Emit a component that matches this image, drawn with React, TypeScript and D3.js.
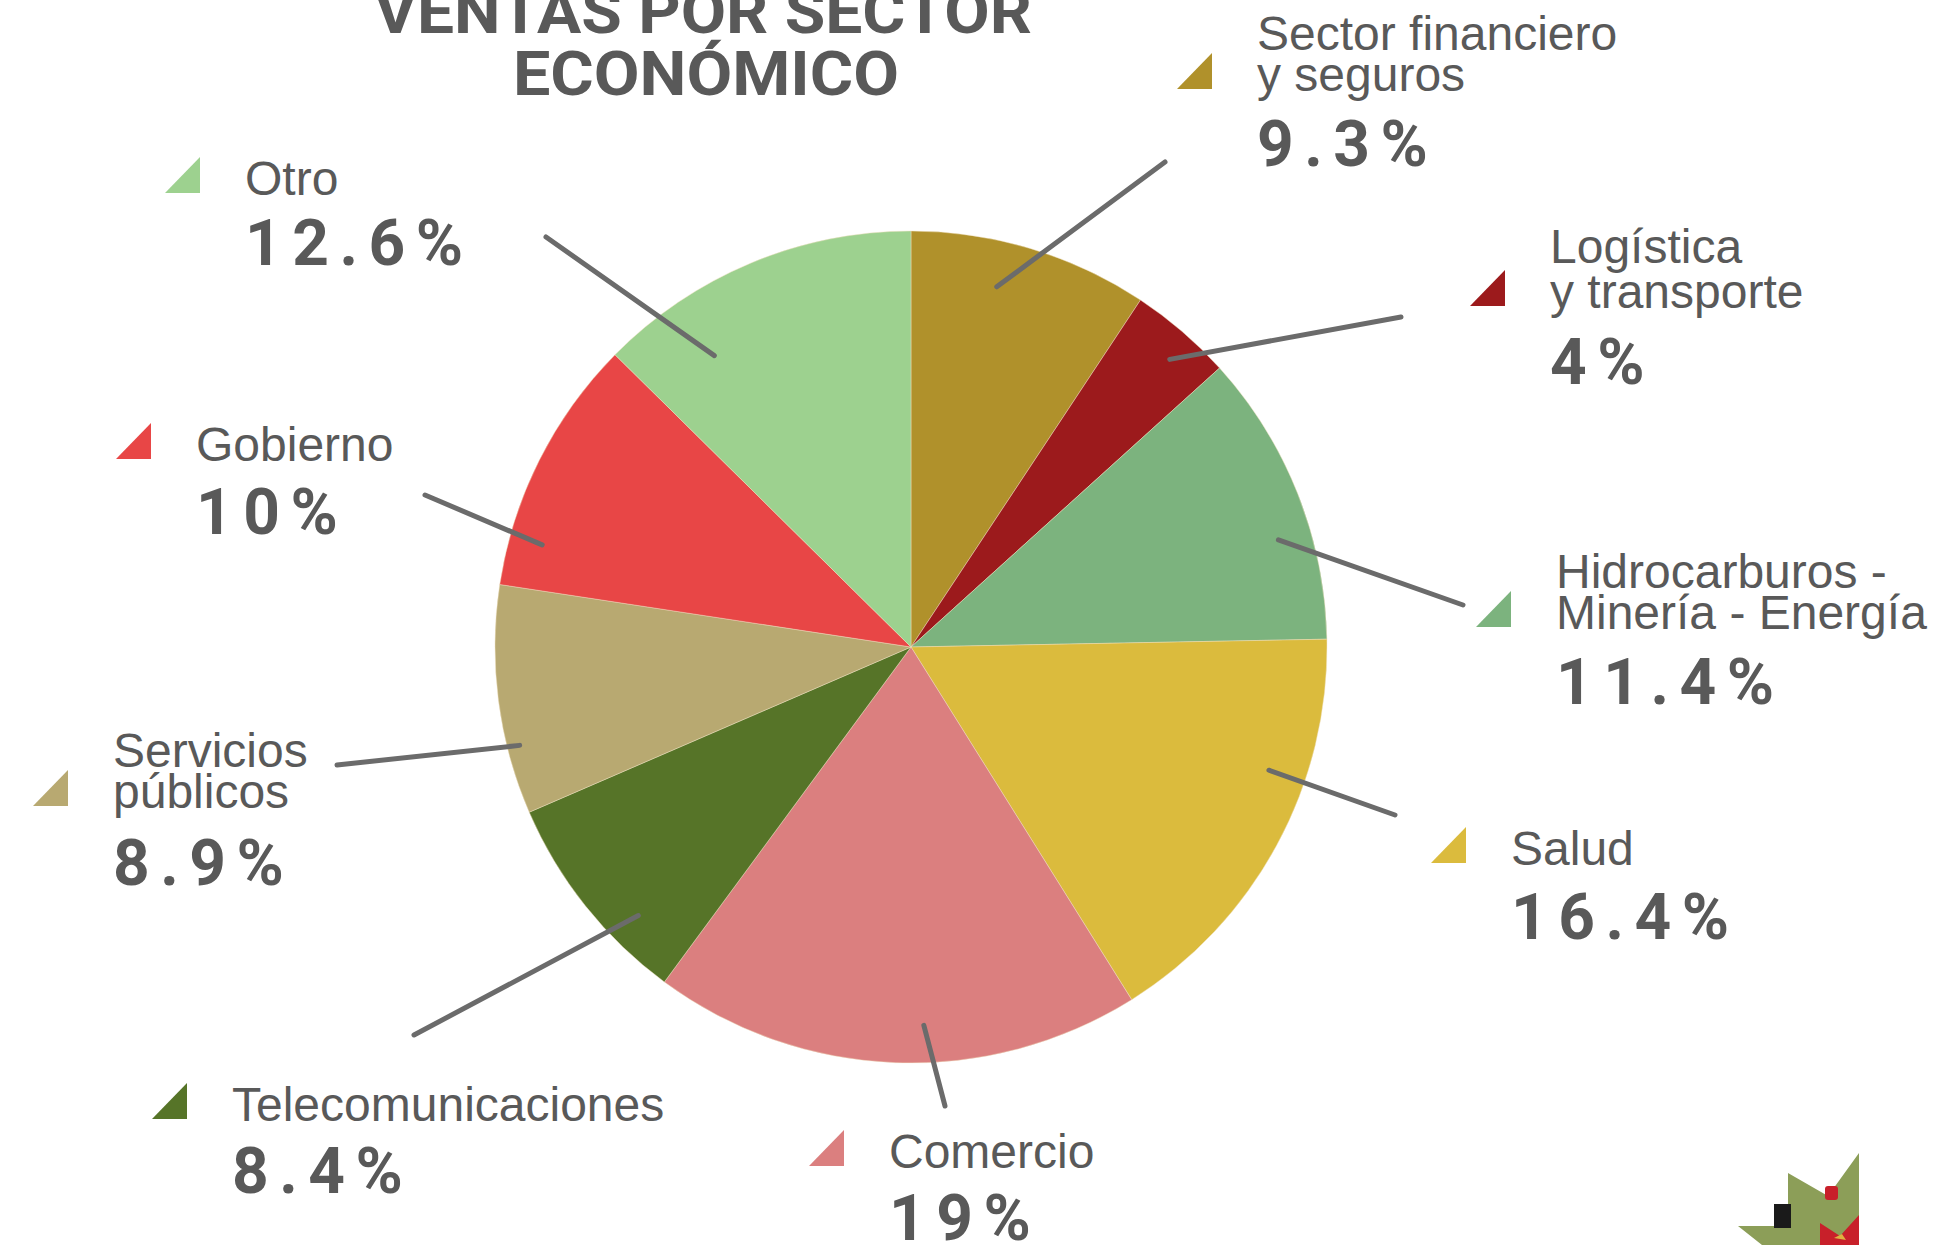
import React from "react";
import * as d3 from "d3";

const categories = [
  "Sector financiero y seguros",
  "Logística y transporte",
  "Hidrocarburos - Minería - Energía",
  "Salud",
  "Comercio",
  "Telecomunicaciones",
  "Servicios públicos",
  "Gobierno",
  "Otro",
];
const values = [9.3, 4, 11.4, 16.4, 19, 8.4, 8.9, 10, 12.6];
const valueLabels = ["9.3%", "4%", "11.4%", "16.4%", "19%", "8.4%", "8.9%", "10%", "12.6%"];
const labelLines = [
  ["Sector financiero", "y seguros"],
  ["Logística", "y transporte"],
  ["Hidrocarburos -", "Minería - Energía"],
  ["Salud"],
  ["Comercio"],
  ["Telecomunicaciones"],
  ["Servicios", "públicos"],
  ["Gobierno"],
  ["Otro"],
];
const colors = [
  "#B0912B",
  "#9C1A1C",
  "#7CB37E",
  "#DBBB3D",
  "#DB7F7F",
  "#567428",
  "#B8A971",
  "#E84646",
  "#9DD18F",
];

// layout: text anchor x, first-line baseline, line gap, pct baseline, leader outer end, leader inner fraction/radius
const layout = [
  { x: 1257, y: 50, gap: 41, py: 166, lx: 1165, ly: 162, t: 0.4, rf: 0.89 },
  { x: 1550, y: 263, gap: 45, py: 384, lx: 1401, ly: 317, t: 0.59, rf: 0.93 },
  { x: 1556, y: 588, gap: 41, py: 704, lx: 1463, ly: 605, t: 0.63, rf: 0.92 },
  { x: 1511, y: 865, gap: 41, py: 939, lx: 1395, ly: 815, t: 0.34, rf: 0.91 },
  { x: 889, y: 1168, gap: 41, py: 1240, lx: 945, ly: 1106, t: 0.44, rf: 0.91 },
  { x: 232, y: 1121, gap: 41, py: 1193, lx: 414, ly: 1035, t: 0.3, rf: 0.92 },
  { x: 113, y: 767, gap: 41, py: 885, lx: 337, ly: 765, t: 0.29, rf: 0.97 },
  { x: 196, y: 461, gap: 41, py: 534, lx: 425, ly: 495, t: 0.19, rf: 0.92 },
  { x: 245, y: 195, gap: 41, py: 265, lx: 546, ly: 237, t: 0.25, rf: 0.845 },
];

const W = 1944;
const H = 1245;
const CX = 911;
const CY = 647;
const R = 416;
const FONT = "Liberation Sans, Arial, Helvetica, sans-serif";
const BOLD_FONT = "Roboto, Liberation Sans, Arial, sans-serif";
const TEXT = "#595959";

export default function App() {
  const pie = d3.pie<number>().value((d) => d).sort(null);
  const arcs = pie(values);
  const arc = d3.arc<d3.PieArcDatum<number>>().innerRadius(0).outerRadius(R);

  return (
    <svg
      width={W}
      height={H}
      viewBox={`0 0 ${W} ${H}`}
      style={{ position: "absolute", left: 0, top: 0, background: "#fff" }}
    >
      <rect x={0} y={0} width={W} height={H} fill="#fff" />
      <g style={{ fontFamily: BOLD_FONT, fontWeight: 700 }} fill={TEXT} textAnchor="middle">
        <text x={703} y={33} fontSize={61} textLength={658} lengthAdjust="spacingAndGlyphs">
          VENTAS POR SECTOR
        </text>
        <text x={706} y={95} fontSize={61} textLength={386} lengthAdjust="spacingAndGlyphs">
          ECONÓMICO
        </text>
      </g>

      <g transform={`translate(${CX},${CY})`}>
        {arcs.map((a, i) => (
          <path
            key={categories[i]}
            d={arc(a) || ""}
            fill={colors[i]}
            stroke="rgba(240,225,190,0.45)"
            strokeWidth={1}
          />
        ))}
      </g>

      {arcs.map((a, i) => {
        const L = layout[i];
        const ang = a.startAngle + L.t * (a.endAngle - a.startAngle);
        const ix = CX + Math.sin(ang) * R * L.rf;
        const iy = CY - Math.cos(ang) * R * L.rf;
        return (
          <line
            key={"l" + i}
            x1={ix}
            y1={iy}
            x2={L.lx}
            y2={L.ly}
            stroke="#6B6B6B"
            strokeWidth={5}
            strokeLinecap="round"
          />
        );
      })}

      {categories.map((c, i) => {
        const L = layout[i];
        const lines = labelLines[i];
        const lastBase = L.y + L.gap * (lines.length - 1);
        const tx1 = L.x - 45;
        const tx0 = tx1 - 35;
        const ty1 = lastBase - 2;
        const ty0 = ty1 - 36;
        return (
          <g key={"t" + c}>
            <polygon
              points={`${tx0},${ty1} ${tx1},${ty0} ${tx1},${ty1}`}
              fill={colors[i]}
            />
            {lines.map((ln, j) => (
              <text
                key={j}
                x={L.x}
                y={L.y + L.gap * j}
                style={{ fontFamily: FONT, fontSize: 48, fontWeight: 400 }}
                fill={TEXT}
              >
                {ln}
              </text>
            ))}
            <text
              x={L.x}
              y={L.py}
              style={{ fontFamily: BOLD_FONT, fontSize: 64, fontWeight: 700, letterSpacing: "10.5px" }}
              fill={TEXT}
            >
              {valueLabels[i]}
            </text>
          </g>
        );
      })}

      <g>
        <polygon
          points="1738,1226 1788,1226 1788,1173 1828,1196 1859,1153 1859,1245 1762,1245"
          fill="#8C9E58"
        />
        <rect x={1774} y={1204} width={17} height={24} fill="#1a1a1a" />
        <polygon points="1820,1223 1840,1236 1859,1215 1859,1245 1820,1245" fill="#C8202A" />
        <polygon points="1834,1238 1842,1234 1846,1240" fill="#E0B040" />
        <rect x={1825} y={1186} width={13} height={14} rx={3} fill="#C8202A" />
      </g>
    </svg>
  );
}
